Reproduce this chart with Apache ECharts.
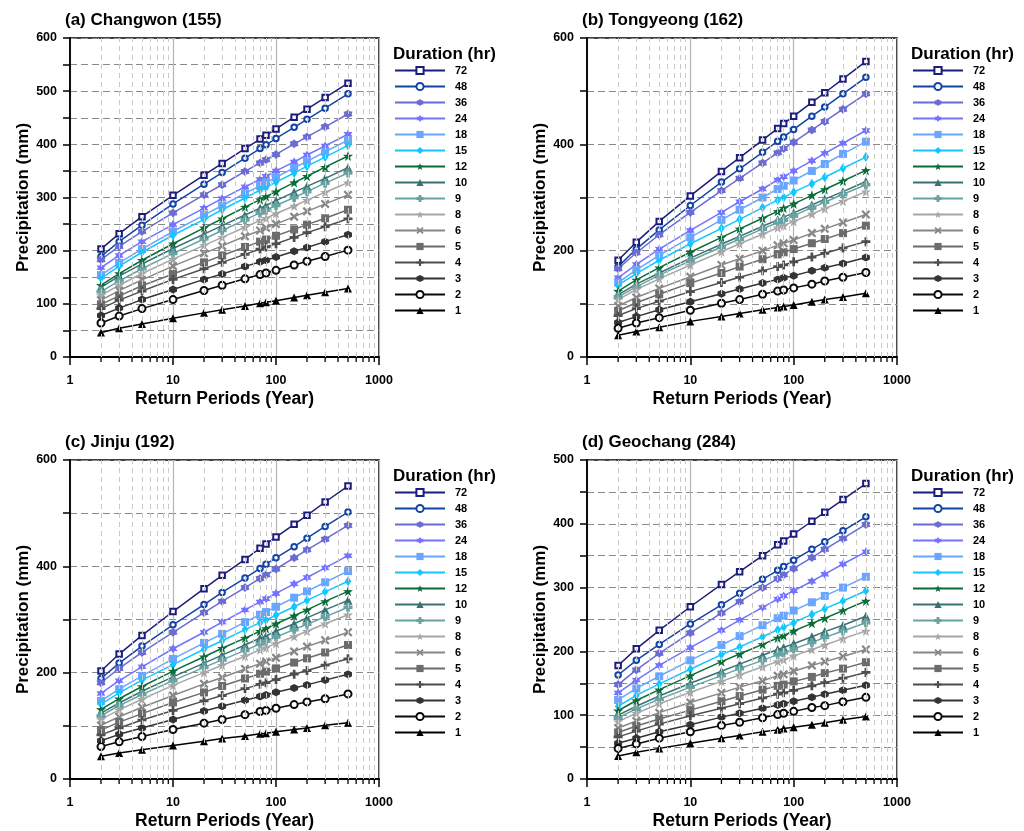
<!DOCTYPE html>
<html><head><meta charset="utf-8">
<script src="https://cdn.jsdelivr.net/npm/echarts@6/dist/echarts.min.js"></script>
<style>html,body{margin:0;padding:0;background:#fff}#c{width:1024px;height:831px}</style>
</head><body><div id="c"></div>
<script>
const returnPeriods = [2,3,5,10,20,30,50,70,80,100,150,200,300,500];
const durations = ['72','48','36','24','18','15','12','10','9','8','6','5','4','3','2','1'];
const minorTicks = [2,3,4,5,6,7,8,9,20,30,40,50,60,70,80,90,200,300,400,500,600,700,800,900];
const panelTitles = ['(a) Changwon (155)','(b) Tongyeong (162)','(c) Jinju (192)','(d) Geochang (284)'];
const yMax = [600,600,600,500];
const yStep = [50,100,100,50];
const yLabelStep = [100,200,200,100];

// rows follow the order of `durations`
const changwon = [
 [203,232,264,304,342,364,392,410,417,429,451,466,488,515],
 [189,217,248,288,325,347,374,392,399,411,432,447,468,495],
 [183,208,236,271,305,324,349,365,371,381,401,414,433,457],
 [168,191,217,249,280,298,320,334,340,350,367,380,397,419],
 [154,177,203,236,267,285,308,322,328,338,356,368,386,408],
 [148,171,197,229,259,277,299,314,319,329,346,359,376,398],
 [135,157,182,213,243,260,282,296,302,311,328,340,357,378],
 [131,152,175,204,231,247,267,280,285,294,310,321,336,356],
 [123,143,166,195,222,238,258,271,276,285,300,311,327,346],
 [116,135,157,184,210,225,244,257,261,270,284,295,310,328],
 [107,125,145,171,195,209,227,238,243,250,264,274,288,305],
 [99,115,134,156,178,191,207,217,221,228,240,249,261,277],
 [91,107,124,146,166,178,193,203,207,213,225,234,245,260],
 [78,92,108,127,146,156,170,179,182,188,199,206,217,230],
 [64,77,91,108,125,135,147,155,158,163,173,180,189,201],
 [46,54,62,73,83,89,96,101,103,106,112,116,122,129]
];
const tongyeong = [
 [182,216,255,303,349,375,408,430,439,453,479,497,523,556],
 [170,203,239,285,329,354,385,406,414,428,453,470,495,526],
 [166,196,230,272,313,336,365,384,392,404,427,443,466,495],
 [149,174,203,238,272,292,316,333,339,350,369,383,402,426],
 [140,164,191,225,258,277,300,316,322,332,350,363,382,405],
 [135,157,182,213,242,259,281,295,300,310,326,338,355,376],
 [124,145,168,197,225,241,261,274,280,288,304,315,331,351],
 [117,137,158,186,212,227,246,258,263,271,286,297,311,330],
 [113,132,154,181,207,222,241,253,258,266,281,291,306,324],
 [108,127,147,173,198,213,231,243,247,255,269,279,293,311],
 [96,112,129,151,173,185,200,210,214,220,233,241,253,268],
 [87,102,118,139,158,170,184,193,197,203,214,222,233,247],
 [78,91,105,123,140,150,162,170,173,179,188,195,205,217],
 [65,76,89,104,119,128,139,146,149,153,162,168,176,187],
 [54,64,74,88,101,108,118,124,126,130,137,143,150,159],
 [41,48,56,67,76,82,89,93,95,98,104,108,113,120]
];
const jinju = [
 [203,235,270,315,358,383,413,434,442,455,479,496,521,551],
 [189,218,250,290,328,351,378,396,404,416,437,453,475,502],
 [181,208,238,276,313,334,360,377,384,395,416,431,451,477],
 [161,185,211,245,276,295,318,333,339,349,367,379,397,420],
 [147,169,194,226,256,273,295,309,314,324,341,353,370,391],
 [141,162,186,215,244,260,281,294,299,308,324,336,352,372],
 [131,151,174,203,230,246,265,278,283,292,307,318,334,353],
 [124,143,165,192,218,233,252,265,269,278,292,303,318,336],
 [119,138,159,185,210,224,242,254,259,267,281,291,305,323],
 [112,130,150,176,200,214,231,243,247,255,268,278,292,309],
 [101,117,135,157,179,191,207,217,221,228,240,249,261,276],
 [92,107,123,144,163,175,189,198,202,208,219,227,238,252],
 [83,96,111,129,147,157,170,178,181,187,197,204,214,226],
 [72,84,96,112,128,137,148,155,158,163,171,177,186,197],
 [61,70,80,93,105,112,121,127,129,133,140,145,151,160],
 [43,49,55,63,71,76,81,85,86,89,93,96,101,106]
];
const geochang = [
 [178,204,233,270,305,325,350,367,373,384,404,418,438,463],
 [163,186,211,243,273,291,313,327,333,343,360,372,389,411],
 [148,171,197,229,260,278,300,314,320,330,347,360,377,399],
 [135,155,178,206,233,249,269,282,287,295,310,321,337,356],
 [124,142,161,186,210,224,241,252,256,264,277,287,300,317],
 [114,131,149,172,195,207,223,234,238,245,258,267,279,295],
 [107,123,140,162,184,196,211,221,225,232,244,252,264,279],
 [100,114,130,150,169,180,194,203,206,212,223,231,241,255],
 [96,110,125,144,162,173,186,195,198,204,214,222,232,245],
 [90,103,118,136,153,163,176,184,187,193,203,210,220,232],
 [80,91,104,120,135,144,154,162,164,169,178,184,192,203],
 [73,83,94,108,122,130,140,146,148,153,160,166,173,183],
 [66,75,86,99,111,118,127,133,135,139,146,151,158,167],
 [56,64,74,85,97,103,111,116,118,122,128,133,139,147],
 [48,55,64,74,84,89,96,101,103,106,112,115,121,128],
 [36,42,48,56,64,68,74,77,79,81,85,88,93,98]
];
const panelData = [changwon, tongyeong, jinju, geochang];

// ---- styles ----
const STAR5 = 'path://M0,-10 L2.35,-3.24 L9.51,-3.09 L3.8,1.24 L5.88,8.09 L0,4 L-5.88,8.09 L-3.8,1.24 L-9.51,-3.09 L-2.35,-3.24 Z';
const STAR6 = 'path://M0,-10 L2.8,-4.85 L8.66,-5 L5.6,0 L8.66,5 L2.8,4.85 L0,10 L-2.8,4.85 L-8.66,5 L-5.6,0 L-8.66,-5 L-2.8,-4.85 Z';
const GEAR = 'path://M0,-10 L3.5,-6 L8.66,-5 L7,0 L8.66,5 L3.5,6 L0,10 L-3.5,6 L-8.66,5 L-7,0 L-8.66,-5 L-3.5,-6 Z';
const XMARK = 'path://M-10,-6.5 L-6.5,-10 L0,-3.5 L6.5,-10 L10,-6.5 L3.5,0 L10,6.5 L6.5,10 L0,3.5 L-6.5,10 L-10,6.5 L-3.5,0 Z';
const PLUS = 'path://M-3,-10 L3,-10 L3,-3 L10,-3 L10,3 L3,3 L3,10 L-3,10 L-3,3 L-10,3 L-10,-3 L-3,-3 Z';
const FATPLUS = 'path://M-4,-10 L4,-10 L4,-4 L10,-4 L10,4 L4,4 L4,10 L-4,10 L-4,4 L-10,4 L-10,-4 L-4,-4 Z';
const HEX = 'path://M0,-10 L8.66,-5 L8.66,5 L0,10 L-8.66,5 L-8.66,-5 Z';
const styles = {
 '72': {color:'#1c1c7c', symbol:'emptyRect', size:5.5, bw:2.3},
 '48': {color:'#1244a6', symbol:'emptyCircle', size:5.5, bw:2.3},
 '36': {color:'#6b6bd4', symbol:GEAR, size:9},
 '24': {color:'#7373ff', symbol:STAR6, size:9},
 '18': {color:'#6aa5ff', symbol:'rect', size:8},
 '15': {color:'#12c6ff', symbol:'diamond', size:[6.5,10]},
 '12': {color:'#0b6c3b', symbol:STAR5, size:10},
 '10': {color:'#3a7171', symbol:'triangle', size:9},
 '9':  {color:'#68a3a3', symbol:FATPLUS, size:9},
 '8':  {color:'#a6a6a6', symbol:STAR5, size:10},
 '6':  {color:'#878787', symbol:XMARK, size:9},
 '5':  {color:'#6c6c6c', symbol:'rect', size:8},
 '4':  {color:'#4e4e4e', symbol:PLUS, size:9},
 '3':  {color:'#343434', symbol:HEX, size:8},
 '2':  {color:'#0a0a0a', symbol:'emptyCircle', size:7, bw:1.2},
 '1':  {color:'#000000', symbol:'triangle', size:8}
};

const FONT = 'Arial, "Liberation Sans", sans-serif';
const grids = [
 {left:70, top:38, width:309, height:319},
 {left:587, top:38, width:310, height:319},
 {left:70, top:460, width:309, height:319},
 {left:587, top:460, width:310, height:319}
];

const option = {
 backgroundColor:'#fff',
 animation:false,
 textStyle:{fontFamily:FONT},
 grid: grids.map(g => Object.assign({show:true, borderColor:'#000', borderWidth:1.5, backgroundColor:'transparent'}, g)),
 title: [],
 legend: [],
 xAxis: [],
 yAxis: [],
 series: []
};

grids.forEach((g, p) => {
 option.title.push({text:panelTitles[p], left:g.left-10, top:g.top-31,
   textStyle:{fontFamily:FONT, fontSize:17, fontWeight:'bold', color:'#000'}});
 option.title.push({text:'Duration (hr)', left:g.left+g.width+9, top:g.top+3,
   textStyle:{fontFamily:FONT, fontSize:17, fontWeight:'bold', color:'#000'}});
 option.legend.push({
   data: durations, orient:'vertical', left:g.left+g.width+15, top:g.top+27,
   itemWidth:50, itemHeight:9, itemGap:5, padding:0,
   textStyle:{fontFamily:FONT, fontSize:11, fontWeight:'bold', color:'#000', padding:[0,0,0,5]},
   selectedMode:false
 });
 option.xAxis.push({
   type:'log', logBase:10, min:1, max:1000, gridIndex:p,
   name:'Return Periods (Year)', nameLocation:'middle', nameGap:33,
   nameTextStyle:{fontFamily:FONT, fontSize:17.5, fontWeight:'bold', color:'#000'},
   axisLine:{show:true, onZero:false, lineStyle:{color:'#000', width:1.8}},
   axisTick:{show:true, length:8, lineStyle:{color:'#000', width:1.5}},
   axisLabel:{fontFamily:FONT, fontSize:12.5, fontWeight:'bold', color:'#000', margin:17,
     formatter: v => String(v)},
   splitLine:{show:true, lineStyle:{color:'#b4b4b4', width:1.2}}
 });
 option.yAxis.push({
   type:'value', min:0, max:yMax[p], interval:yStep[p], gridIndex:p,
   name:'Precipitation (mm)', nameLocation:'middle', nameGap:31,
   nameTextStyle:{fontFamily:FONT, fontSize:17, fontWeight:'bold', color:'#000'},
   axisLine:{show:true, lineStyle:{color:'#000', width:1.8}},
   axisTick:{show:true, length:7, lineStyle:{color:'#000', width:1.5}},
   axisLabel:{fontFamily:FONT, fontSize:12.5, fontWeight:'bold', color:'#000', margin:13,
     formatter: v => (v % yLabelStep[p] === 0 ? String(v) : '')},
   splitLine:{show:true, lineStyle:{color:'#8a8a8a', width:1, type:[7,4]}}
 });
 // minor vertical grid lines
 option.series.push({
   type:'line', name:'_grid'+p, xAxisIndex:p, yAxisIndex:p, data:[], silent:true, z:1,
   markLine:{symbol:'none', silent:true, animation:false, label:{show:false},
     lineStyle:{type:[5,4], color:'#c9c9c9', width:1},
     emphasis:{disabled:true},
     data: minorTicks.map(t => ({xAxis:t}))}
 });
 // minor ticks below the x axis
 option.series.push({
   type:'custom', name:'_ticks'+p, xAxisIndex:p, yAxisIndex:p, clip:false, silent:true, z:5,
   data: minorTicks.map(t => [t, 0]),
   renderItem: (params, api) => {
     const pt = api.coord([api.value(0), api.value(1)]);
     return {type:'line', shape:{x1:pt[0], y1:pt[1], x2:pt[0], y2:pt[1]+5},
       style:{stroke:'#000', lineWidth:1.3}};
   }
 });
 durations.forEach((d, i) => {
   const s = styles[d];
   option.series.push({
     type:'line', name:d, xAxisIndex:p, yAxisIndex:p, z:3,
     data: returnPeriods.map((t, j) => [t, panelData[p][i][j]]),
     symbol:s.symbol, symbolSize:s.size, showSymbol:true,
     lineStyle:{color:s.color, width:1.5},
     itemStyle:{color:s.color, borderColor:s.color, borderWidth:s.bw || 0},
     emphasis:{disabled:true}
   });
 });
});

const chart = echarts.init(document.getElementById('c'), null, {renderer:'canvas'});
chart.setOption(option);
</script>
</body></html>
